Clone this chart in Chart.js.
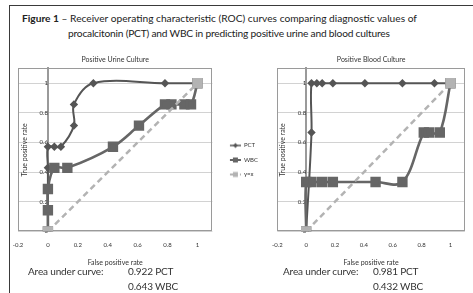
<!DOCTYPE html>
<html>
<head>
<meta charset="utf-8">
<script src="https://cdn.jsdelivr.net/npm/chart.js@4/dist/chart.umd.min.js"></script>
<style>
  body { margin: 0; width: 473px; height: 293px; overflow: hidden; background: #fff; position: relative; font-family: Lato, sans-serif; color: #222; }
  .frame { position: absolute; left: 9px; top: 5px; width: 500px; height: 320px; border: 1.5px solid #3a3a3a; }
  .cap { position: absolute; font-size: 10.2px; line-height: 14px; white-space: nowrap; }
  .auc { position: absolute; font-size: 10px; line-height: 15px; letter-spacing: -0.15px; color: #333; white-space: nowrap; }
  canvas { position: absolute; }
</style>
</head>
<body>
<div class="frame"></div>
<div class="cap" style="left:22px; top:11px;"><b>Figure 1</b> – Receiver operating characteristic (ROC) curves comparing diagnostic values of</div>
<div class="cap" style="left:68px; top:26px; letter-spacing:-0.2px;">procalcitonin (PCT) and WBC in predicting positive urine and blood cultures</div>

<canvas id="urineChart" style="left:0; top:50px;"></canvas>
<canvas id="bloodChart" style="left:262px; top:50px;"></canvas>

<div class="auc" style="left:28px; top:264px;">Area under curve:</div>
<div class="auc" style="left:128px; top:264px;">0.922 PCT</div>
<div class="auc" style="left:128px; top:279px;">0.643 WBC</div>
<div class="auc" style="left:283px; top:264px;">Area under curve:</div>
<div class="auc" style="left:373px; top:264px;">0.981 PCT</div>
<div class="auc" style="left:373px; top:279px;">0.432 WBC</div>

<script>
// ── Data ───────────────────────────────────────────────
const urinePctX = [0, 0, 0, 0.043, 0.087, 0.174, 0.174, 0.304, 0.783, 1];
const urinePctY = [0, 0.429, 0.571, 0.571, 0.571, 0.714, 0.857, 1, 1, 1];
const urineWbcX = [0, 0, 0, 0.043, 0.130, 0.435, 0.609, 0.783, 0.826, 0.913, 0.957, 1];
const urineWbcY = [0, 0.143, 0.286, 0.429, 0.429, 0.571, 0.714, 0.857, 0.857, 0.857, 0.857, 1];

const bloodPctX = [0, 0.037, 0.037, 0.074, 0.111, 0.185, 0.407, 0.667, 0.889, 1];
const bloodPctY = [0, 0.667, 1, 1, 1, 1, 1, 1, 1, 1];
const bloodWbcX = [0, 0, 0.037, 0.111, 0.185, 0.481, 0.667, 0.815, 0.852, 0.926, 1];
const bloodWbcY = [0, 0.333, 0.333, 0.333, 0.333, 0.333, 0.333, 0.667, 0.667, 0.667, 1];

const diagX = [0, 1];
const diagY = [0, 1];

const seriesNames = ['PCT', 'WBC', 'y=x'];
const xTicks = [-0.2, 0, 0.2, 0.4, 0.6, 0.8, 1];
const yTicks = [0, 0.2, 0.4, 0.6, 0.8, 1];

const PCT_COL = '#555555';
const WBC_COL = '#666666';
const DIAG_COL = '#b3b3b3';

Chart.defaults.font.family = 'Lato, sans-serif';
Chart.defaults.color = '#333';

const toPts = (xs, ys) => xs.map((x, i) => ({ x, y: ys[i] }));
const fmtTick = (v) => String(Math.round(v * 10) / 10);

// small legend icons: a short line with the marker in the middle
function makeIcon(color, style, lw, dash) {
    const c = document.createElement('canvas');
    c.width = 20; c.height = 8;
    const g = c.getContext('2d');
    g.strokeStyle = color; g.fillStyle = color; g.lineWidth = lw;
    if (dash) g.setLineDash(dash);
    g.beginPath(); g.moveTo(9, 4); g.lineTo(20, 4); g.stroke();
    g.setLineDash([]);
    if (style === 'diamond') {
        g.beginPath(); g.moveTo(14.5, 1.5); g.lineTo(17, 4); g.lineTo(14.5, 6.5); g.lineTo(12, 4); g.closePath(); g.fill();
    } else {
        g.fillRect(12, 1.5, 5, 5);
    }
    return c;
}
const legendIcons = [
    makeIcon(PCT_COL, 'diamond', 1.5),
    makeIcon(WBC_COL, 'square', 2),
    makeIcon(DIAG_COL, 'square', 2, [3, 2])
];

// plot-area frame
const plotFrame = {
    id: 'plotFrame',
    beforeDatasetsDraw(chart) {
        const { ctx, chartArea: a } = chart;
        ctx.save();
        ctx.strokeStyle = '#9a9a9a';
        ctx.lineWidth = 1;
        ctx.strokeRect(Math.round(a.left) + 0.5, Math.round(a.top) + 0.5, Math.round(a.width) - 1, Math.round(a.height) - 1);
        ctx.restore();
    }
};

// y-axis title sits inside the plot, left of the x=0 axis line (Excel style)
const yTitle = {
    id: 'yTitle',
    beforeDatasetsDraw(chart, args, opts) {
        const { ctx, chartArea: a, scales } = chart;
        const px = scales.x.getPixelForValue(0) - 23;
        ctx.save();
        ctx.translate(px, (a.top + a.bottom) / 2);
        ctx.rotate(-Math.PI / 2);
        ctx.font = '7px Lato, sans-serif';
        ctx.fillStyle = '#333';
        ctx.textAlign = 'center';
        ctx.textBaseline = 'middle';
        ctx.fillText(opts.text, 0, 0);
        ctx.restore();
    }
};

function buildDatasets(pctX, pctY, wbcX, wbcY) {
    return [
        {
            label: seriesNames[0], data: toPts(pctX, pctY), showLine: true, tension: 0.35,
            borderColor: PCT_COL, backgroundColor: PCT_COL, borderWidth: 2,
            pointStyle: 'rectRot', pointRadius: 2.8, order: 2
        },
        {
            label: seriesNames[1], data: toPts(wbcX, wbcY), showLine: true, tension: 0.35,
            borderColor: WBC_COL, backgroundColor: WBC_COL, borderWidth: 2.6,
            pointStyle: 'rect', pointRadius: 5.5, order: 1
        },
        {
            label: seriesNames[2], data: toPts(diagX, diagY), showLine: true, tension: 0,
            borderColor: DIAG_COL, backgroundColor: DIAG_COL, borderWidth: 2.5, borderDash: [6, 4],
            pointStyle: 'rect', pointRadius: 5.5, order: 0
        }
    ];
}

function buildOptions(title, showLegend, padding) {
    return {
        responsive: false,
        animation: false,
        layout: { padding },
        plugins: {
            title: {
                display: true, text: title, fullSize: false,
                font: { size: 7, weight: 'normal' }, color: '#333', padding: { top: 4, bottom: 4 }
            },
            yTitle: { text: 'True positive rate' },
            legend: {
                display: showLegend, position: 'right',
                labels: {
                    usePointStyle: true, pointStyleWidth: 20, padding: 8.5,
                    font: { size: 6 }, color: '#333',
                    sort: (a, b) => a.datasetIndex - b.datasetIndex,
                    generateLabels(chart) {
                        const items = Chart.defaults.plugins.legend.labels.generateLabels(chart);
                        items.forEach((it) => { it.pointStyle = legendIcons[it.datasetIndex]; });
                        return items;
                    }
                }
            },
            tooltip: { enabled: false }
        },
        scales: {
            x: {
                type: 'linear', min: -0.2, max: 1.1,
                afterBuildTicks: (s) => { s.ticks = xTicks.map(v => ({ value: v })); },
                grid: { display: false, drawTicks: false },
                border: { display: false },
                ticks: { font: { size: 6 }, color: '#333', padding: 10, maxRotation: 0, callback: fmtTick },
                title: { display: true, text: 'False positive rate', font: { size: 7 }, color: '#333', padding: { top: 0, bottom: 1 } }
            },
            y: {
                type: 'linear', min: 0, max: 1.1,
                position: { x: 0 },
                afterBuildTicks: (s) => { s.ticks = yTicks.map(v => ({ value: v })); },
                grid: { color: '#d2d2d2', lineWidth: 1, drawTicks: false },
                border: { display: true, color: '#9a9a9a', width: 2 },
                ticks: { font: { size: 6 }, color: '#333', padding: -5, callback: fmtTick }
            }
        }
    };
}

const urineCanvas = document.getElementById('urineChart');
urineCanvas.width = 268; urineCanvas.height = 225;
new Chart(urineCanvas, {
    type: 'scatter',
    data: { datasets: buildDatasets(urinePctX, urinePctY, urineWbcX, urineWbcY) },
    options: buildOptions('Positive Urine Culture', true, { left: 18, top: 2, right: 0, bottom: 7 }),
    plugins: [plotFrame, yTitle]
});

const bloodCanvas = document.getElementById('bloodChart');
bloodCanvas.width = 211; bloodCanvas.height = 225;
new Chart(bloodCanvas, {
    type: 'scatter',
    data: { datasets: buildDatasets(bloodPctX, bloodPctY, bloodWbcX, bloodWbcY) },
    options: buildOptions('Positive Blood Culture', false, { left: 11, top: 2, right: 5, bottom: 7 }),
    plugins: [plotFrame, yTitle]
});
</script>
</body>
</html>
